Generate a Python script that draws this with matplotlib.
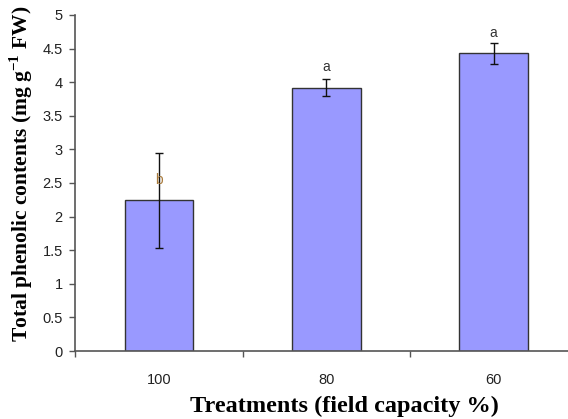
import numpy as np
import matplotlib.pyplot as plt
from matplotlib.ticker import FixedLocator, NullFormatter

plt.rcParams['mathtext.fontset'] = 'custom'
plt.rcParams['mathtext.rm'] = 'Liberation Serif'
plt.rcParams['mathtext.bf'] = 'Liberation Serif:bold'

# Data
treatments = ['100', '80', '60']
phenolics = [2.24, 3.92, 4.43]
errors = [0.71, 0.13, 0.155]
letters = ['b', 'a', 'a']
letter_colors = ['#a8793a', '#333333', '#333333']

fig = plt.figure(figsize=(5.68, 4.19), dpi=100)
ax = fig.add_axes([75.3 / 568, 68 / 419, 502 / 568, 336 / 419])

x = np.arange(len(treatments))
ax.bar(x, phenolics, width=0.41, color='#9999ff', edgecolor='#333333', linewidth=1.0, zorder=2)
ax.errorbar(x, phenolics, yerr=errors, fmt='none', ecolor='#111111', elinewidth=1.0,
            capsize=3, capthick=1.0, zorder=3)

for xi, yi, lab, c in zip(x, phenolics, letters, letter_colors):
    ax.text(xi, yi + 0.3, lab, ha='center', va='center', fontsize=10,
            family='Liberation Sans', color=c, zorder=4)

ax.set_xlim(-0.5, 2.5)
ax.set_ylim(0, 5)
ax.set_yticks(np.arange(0, 5.01, 0.5))
ax.set_yticklabels(['0', '0.5', '1', '1.5', '2', '2.5', '3', '3.5', '4', '4.5', '5'])
ax.set_xticks(x)
ax.set_xticklabels(treatments)
ax.tick_params(axis='x', which='major', length=0, pad=16)
ax.xaxis.set_minor_locator(FixedLocator([-0.5, 0.5, 1.5, 2.5]))
ax.xaxis.set_minor_formatter(NullFormatter())
ax.tick_params(axis='x', which='minor', length=4, width=1, color='#555555', direction='out')
ax.tick_params(axis='y', length=4, width=1, color='#555555', direction='out', pad=5)
for lab in ax.get_xticklabels() + ax.get_yticklabels():
    lab.set_fontfamily('Liberation Sans')
    lab.set_fontsize(10.5)
    lab.set_color('#222222')

for s in ['top', 'right']:
    ax.spines[s].set_visible(False)
for s in ['left', 'bottom']:
    ax.spines[s].set_color('#555555')
    ax.spines[s].set_linewidth(1.2)

ax.set_xlabel('Treatments (field capacity %)', family='Liberation Serif', fontweight='bold',
              fontsize=17.5)
ax.xaxis.set_label_coords(0.537, -0.132)
ax.set_ylabel(r'Total phenolic contents (mg g$^{\mathbf{-1}}$ FW)', family='Liberation Serif',
              fontweight='bold', fontsize=15.5)
ax.yaxis.set_label_coords(-0.080, 0.527)

fig.savefig('out.png', dpi=100, facecolor='white')
